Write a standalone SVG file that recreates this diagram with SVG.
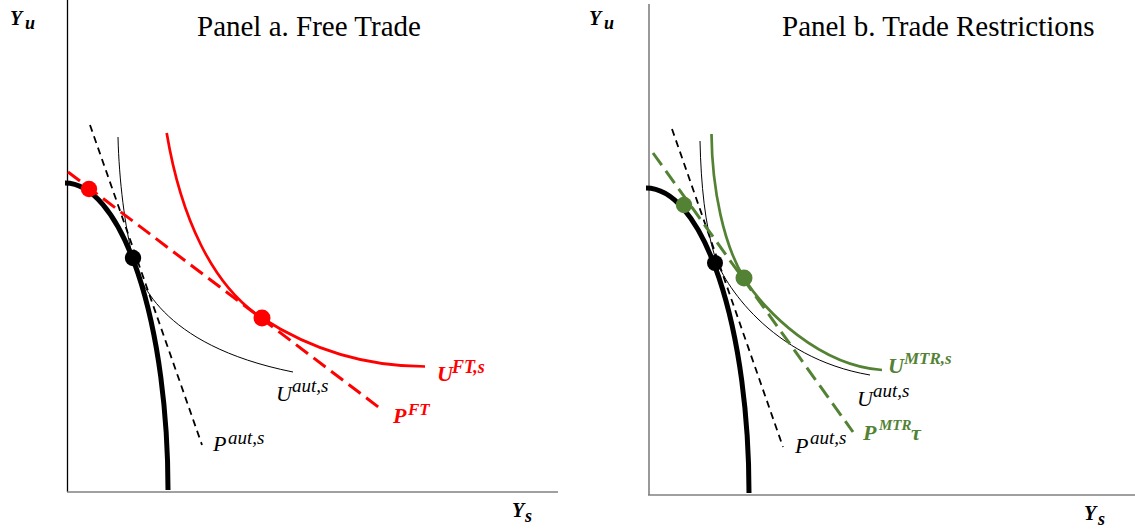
<svg xmlns="http://www.w3.org/2000/svg" width="1135" height="531" viewBox="0 0 1135 531">
<style>
.axis{stroke:#808080;stroke-width:1.6;fill:none}
.axisk{stroke:#000;stroke-width:1.3;fill:none}
.ppf{fill:none;stroke:#000;stroke-width:5}
.uaut{fill:none;stroke:#000;stroke-width:1}
.paut{fill:none;stroke:#000;stroke-width:1.8;stroke-dasharray:7 5}
.usol{fill:none;stroke-width:2.7}
.pdash{fill:none;stroke-width:3;stroke-dasharray:15 7}
.red{stroke:#ff0000}
.grn{stroke:#548235}
.title{font-family:"Liberation Serif","Times New Roman",serif;font-size:29px;fill:#000}
.m{font-family:"Liberation Serif","Times New Roman",serif;font-style:italic;font-size:22px}
.b{font-weight:bold}
.sup{font-size:19px}
.ax{font-size:20px}
.axs{font-size:18px}
</style>
<rect width="1135" height="531" fill="#fff"/>

<g id="panel-a">
  <g id="axes-a">
    <line class="axisk" x1="67.5" y1="0" x2="67.5" y2="492"/>
    <line class="axis" x1="67" y1="492" x2="558" y2="492"/>
  </g>
  <text id="title-a" class="title" x="197" y="36">Panel a. Free Trade</text>
  <text id="yu-a" class="m b ax" x="10" y="25">Y<tspan class="axs" x="25" y="29">u</tspan></text>
  <text id="ys-a" class="m b ax" x="512" y="517">Y<tspan class="axs" x="525" y="522">s</tspan></text>
  <g id="connectors-a">
    <path id="ppf-a" class="ppf" d="M65,183 A103,307 0 0 1 168,490"/>
    <path id="uaut-a" class="uaut" d="M118,137 C119,180 125,228 133,258 C138,277 158,345 293,372"/>
    <line id="paut-a" class="paut" x1="90" y1="125" x2="202" y2="445"/>
    <path id="uft" class="usol red" d="M166.7,133 C180.7,216.6 212,285.7 262,318 C312,350.3 365,366.5 425,366.5"/>
    <line id="pft" class="pdash red" x1="68" y1="172" x2="381" y2="409"/>
  </g>
  <g id="dots-a">
    <circle id="dot-aut-a" cx="133" cy="258" r="8.2" fill="#000"/>
    <circle id="dot-prod-ft" cx="89" cy="189" r="8.2" fill="#ff0000"/>
    <circle id="dot-cons-ft" cx="262" cy="318" r="8.5" fill="#ff0000"/>
  </g>
  <g id="labels-a">
    <text id="lbl-uaut-a" class="m" x="276" y="401">U<tspan class="sup" x="292" y="392">aut,s</tspan></text>
    <text id="lbl-paut-a" class="m" x="213" y="451">P<tspan class="sup" x="228" y="444">aut,s</tspan></text>
    <text id="lbl-uft" class="m b" x="437" y="381" fill="#ff0000">U<tspan x="452" y="373" style="font-size:18px">FT,s</tspan></text>
    <text id="lbl-pft" class="m b" x="393" y="423" fill="#ff0000">P<tspan x="408" y="415" style="font-size:17px">FT</tspan></text>
  </g>
</g>

<g id="panel-b">
  <g id="axes-b">
    <line class="axis" x1="649" y1="4" x2="649" y2="495"/>
    <line class="axis" x1="648" y1="495" x2="1135" y2="495"/>
  </g>
  <text id="title-b" class="title" x="782" y="36">Panel b. Trade Restrictions</text>
  <text id="yu-b" class="m b ax" x="589" y="25">Y<tspan class="axs" x="604" y="29">u</tspan></text>
  <text id="ys-b" class="m b ax" x="1084" y="520">Y<tspan class="axs" x="1098" y="525">s</tspan></text>
  <g id="connectors-b">
    <path id="ppf-b" class="ppf" d="M646,188 A103,305 0 0 1 749,493"/>
    <path id="uaut-b" class="uaut" d="M700,141 C701,185 705,225 715,257 C723,282 770,358 870,375"/>
    <line id="paut-b" class="paut" x1="672" y1="129" x2="783" y2="447"/>
    <path id="umtr" class="usol grn" d="M711.5,134 C712,190 724,245 744,278 C764,311 820,366 882,370"/>
    <line id="pmtr" class="pdash grn" x1="653" y1="153" x2="853" y2="432"/>
  </g>
  <g id="dots-b">
    <circle id="dot-aut-b" cx="715" cy="263" r="8" fill="#000"/>
    <circle id="dot-prod-mtr" cx="684" cy="205" r="8.2" fill="#548235"/>
    <circle id="dot-cons-mtr" cx="744" cy="278" r="8.5" fill="#548235"/>
  </g>
  <g id="labels-b">
    <text id="lbl-umtr" class="m b" x="888" y="373" fill="#548235">U<tspan x="904" y="364" style="font-size:17px">MTR,s</tspan></text>
    <text id="lbl-uaut-b" class="m" x="857" y="406">U<tspan class="sup" x="873" y="397">aut,s</tspan></text>
    <text id="lbl-pmtr" class="m b" x="863" y="440" fill="#548235">P<tspan x="879" y="430" style="font-size:15px">MTR</tspan><tspan x="911" y="440">τ</tspan></text>
    <text id="lbl-paut-b" class="m" x="795" y="453">P<tspan class="sup" x="810" y="444">aut,s</tspan></text>
  </g>
</g>
</svg>
